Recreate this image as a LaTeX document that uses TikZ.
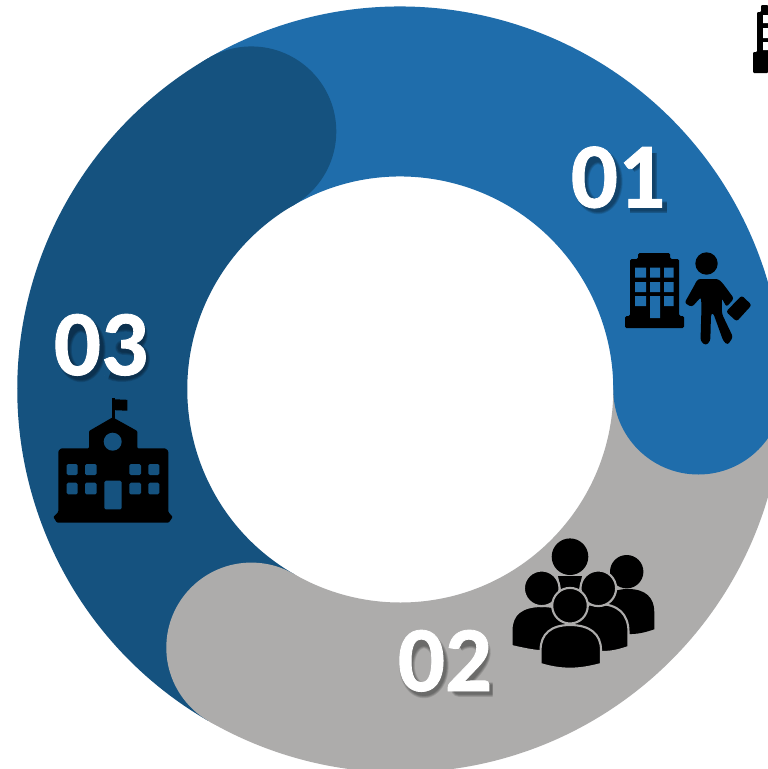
\documentclass[tikz,border=0pt]{standalone}
\usepackage{fontspec}
\usetikzlibrary{calc}
\setmainfont{Carlito}[BoldFeatures={FakeBold=0.9}]
\definecolor{ringlight}{HTML}{1F6DAB}
\definecolor{ringdark}{HTML}{15527F}
\definecolor{ringgray}{HTML}{ADACAB}
\tikzset{
  band/.style={line width=170pt},
  ink/.style={fill=black},
  label/.style={font=\fontsize{93}{93}\selectfont\bfseries,text=white,anchor=base,inner sep=0pt},
  shade/.style={draw=black,opacity=0.11,line cap=butt,line join=round},
  peoplestroke/.style={fill=black,draw=ringgray,line width=2.1pt},
}
% soft drop shadows of the digits, drawn as strokes; #1 = x, #2 = baseline
\newcommand{\threewidths}[1]{%
  \foreach \extra in {4.5,3,1.5,0}{#1}}
\newcommand{\shadezero}[2]{\begin{scope}[shift={(#1+3.5,#2+4.5)}]\threewidths{
  \draw[shade,line width=11pt+\extra pt] (22.5,-30) ellipse[x radius=17,y radius=25];}\end{scope}}
\newcommand{\shadeone}[2]{\begin{scope}[shift={(#1+3.5,#2+4.5)}]\threewidths{
  \draw[shade,line width=13pt+\extra pt] (26,-59) -- (26,-4);
  \draw[shade,line width=8pt+\extra pt] (7,-4.5) -- (44,-4.5);
  \draw[shade,line width=8pt+\extra pt] (26,-54) -- (9,-45);}\end{scope}}
\newcommand{\shadetwo}[2]{\begin{scope}[shift={(#1+3.5,#2+4.5)}]\threewidths{
  \draw[shade,line width=10pt+\extra pt] (10,-51) .. controls (18,-57) and (36,-57) .. (35,-42) .. controls (34,-30) and (18,-18) .. (10,-6) -- (44,-6);}\end{scope}}
\newcommand{\shadethree}[2]{\begin{scope}[shift={(#1+3.5,#2+4.5)}]\threewidths{
  \draw[shade,line width=10pt+\extra pt] (9,-53) .. controls (20,-57) and (37,-56) .. (36,-44) .. controls (35,-34) and (24,-32) .. (18,-32) .. controls (30,-32) and (40,-28) .. (38,-18) .. controls (36,-3) and (14,-3) .. (6,-7);}\end{scope}}
\begin{document}
\begin{tikzpicture}[x=1pt,y=-1pt]
\useasboundingbox (0,0) rectangle (768,769);
\clip (0,0) rectangle (768,769);
\fill[white] (0,0) rectangle (768,769);
\coordinate (c) at (400.3,389.5);
% ring bands
\draw[band,ringlight] ($(c)+(-120:298)$) arc[start angle=-120,end angle=0,radius=298];
\draw[band,ringgray] ($(c)+(0:298)$) arc[start angle=0,end angle=120,radius=298];
\draw[band,ringdark] ($(c)+(120:298)$) arc[start angle=120,end angle=240,radius=298];
% round ends
\fill[ringlight] ($(c)+(0:298)$) circle[radius=85];
\fill[ringgray] ($(c)+(120:298)$) circle[radius=85];
\fill[ringdark] ($(c)+(240:298)$) circle[radius=85];
% partial building top right
\fill[ink,rounded corners=1pt] (761,5) -- (768,5) -- (768,73) -- (753,73) -- (753,52) -- (757,52) -- (757,12) -- (761,12) -- cycle;
\fill[white] (763,15) rectangle (768,23) (763,28) rectangle (768,38) (763,42) rectangle (768,50);
% building 01
\fill[ink,rounded corners=1.5pt] (638,253) -- (670,253) -- (670,259) -- (679,259) -- (679,316) -- (684,316) -- (684,328) -- (625,328) -- (625,316) -- (630,316) -- (630,259) -- (638,259) -- cycle;
\fill[ringlight] (635,267.5) rectangle (646,277.5) (650,267.5) rectangle (660,277.5) (664,267.5) rectangle (673.5,277.5)
  (635,282) rectangle (646,292) (650,282) rectangle (660,292) (664,282) rectangle (673.5,292)
  (635,296) rectangle (646,306) (650,296) rectangle (660,318) (664,296) rectangle (673.5,306);
% person 01
\fill[ink] (706.5,263.5) circle[radius=11.2];
\fill[ink,rounded corners=2.6pt] (697.7,279) -- (718.3,279) -- (722.5,283) -- (734,298.5) -- (726.5,307) -- (721.7,298) -- (722,314) -- (733,337) -- (727.7,345) -- (723.3,341) -- (713,312.5) -- (711,314) -- (710.3,341) -- (705.7,345.5) -- (700.5,341) -- (701.5,307) -- (701,297) -- (692,307) -- (684.5,303) -- (694,286) -- cycle;
\fill[ink,rounded corners=2.5pt] (726,311.7) -- (741.7,295.5) -- (751.7,305) -- (736.7,321.5) -- cycle;
% people 02
\fill[ink] (626.7,571.7) circle[radius=16.7];
\fill[ink] (602,634) -- (602,612) .. controls (604,595) and (612,589) .. (628,589) .. controls (646,589) and (654.3,598) .. (654.3,612) -- (654.3,629.3) .. controls (646,632) and (639,634) .. (631.7,634) -- cycle;
\fill[ink] (558,576) -- (582,576) -- (579,590) -- (561,590) -- cycle;
\fill[ink] (570,556.7) circle[radius=18.3];
\filldraw[peoplestroke] (538,651) .. controls (529,650) and (520,648) .. (511.5,646) -- (511.5,630) .. controls (511.5,614) and (522,606) .. (541.7,606) .. controls (562,606) and (572,614) .. (572,632) -- (572,652) -- cycle;
\filldraw[peoplestroke] (541.7,588.3) circle[radius=17.8];
\filldraw[peoplestroke] (566,652) -- (566,630) .. controls (566,612) and (578,604) .. (598.3,604) .. controls (618,604) and (628.5,614) .. (628.5,632) -- (628.5,647) .. controls (620,650) and (612,652) .. (603,652) -- cycle;
\filldraw[peoplestroke] (598.3,588.3) circle[radius=17.8];
\filldraw[peoplestroke] (540.6,664) -- (540.6,650) .. controls (540.6,634) and (551,625) .. (570,625) .. controls (590,625) and (601,634) .. (601,650) -- (601,664) .. controls (590,667) and (580,668.7) .. (570,668.7) .. controls (560,668.7) and (550,667) .. (540.6,664) -- cycle;
\filldraw[peoplestroke] (570,605.7) circle[radius=17.8];
% school 03
\fill[ink] (111.7,397.5) rectangle (115,420);
\fill[ink] (115,399.3) -- (127.3,399.8) -- (127.3,410.7) -- (115,410.2) -- cycle;
\fill[ink,rounded corners=1pt] (89,431) -- (112.7,417.3) -- (137.3,431) -- (137.3,448.3) -- (165.5,448.3) -- (168.3,451) -- (168.3,512) -- (172.7,517) -- (168.7,522.7) -- (57,522.7) -- (53.3,517) -- (58.3,512) -- (58.3,451) -- (61,448.3) -- (89,448.3) -- cycle;
\fill[ringdark] (112.7,441.7) circle[radius=9];
\fill[ringdark,rounded corners=1.5pt] (66.7,464) rectangle (77.7,475) (85,464) rectangle (96.7,475) (129.3,464) rectangle (141,475) (148.3,464) rectangle (159.3,475)
  (66.7,482.7) rectangle (77.7,494.3) (85,482.7) rectangle (96.7,494.3) (129.3,482.7) rectangle (141,494.3) (148.3,482.7) rectangle (159.3,494.3)
  (104.3,480.7) rectangle (121.7,509.3);
% label shadows
\shadezero{572}{207}\shadeone{619}{207}
\shadezero{398}{691}\shadetwo{445}{691}
\shadezero{55}{375}\shadethree{101}{375}
% labels
\node[label] (lone) at (618,207.5) {01};
\node[label] (ltwo) at (445,691) {02};
\node[label] (lthree) at (101,375) {03};
\end{tikzpicture}
\end{document}
